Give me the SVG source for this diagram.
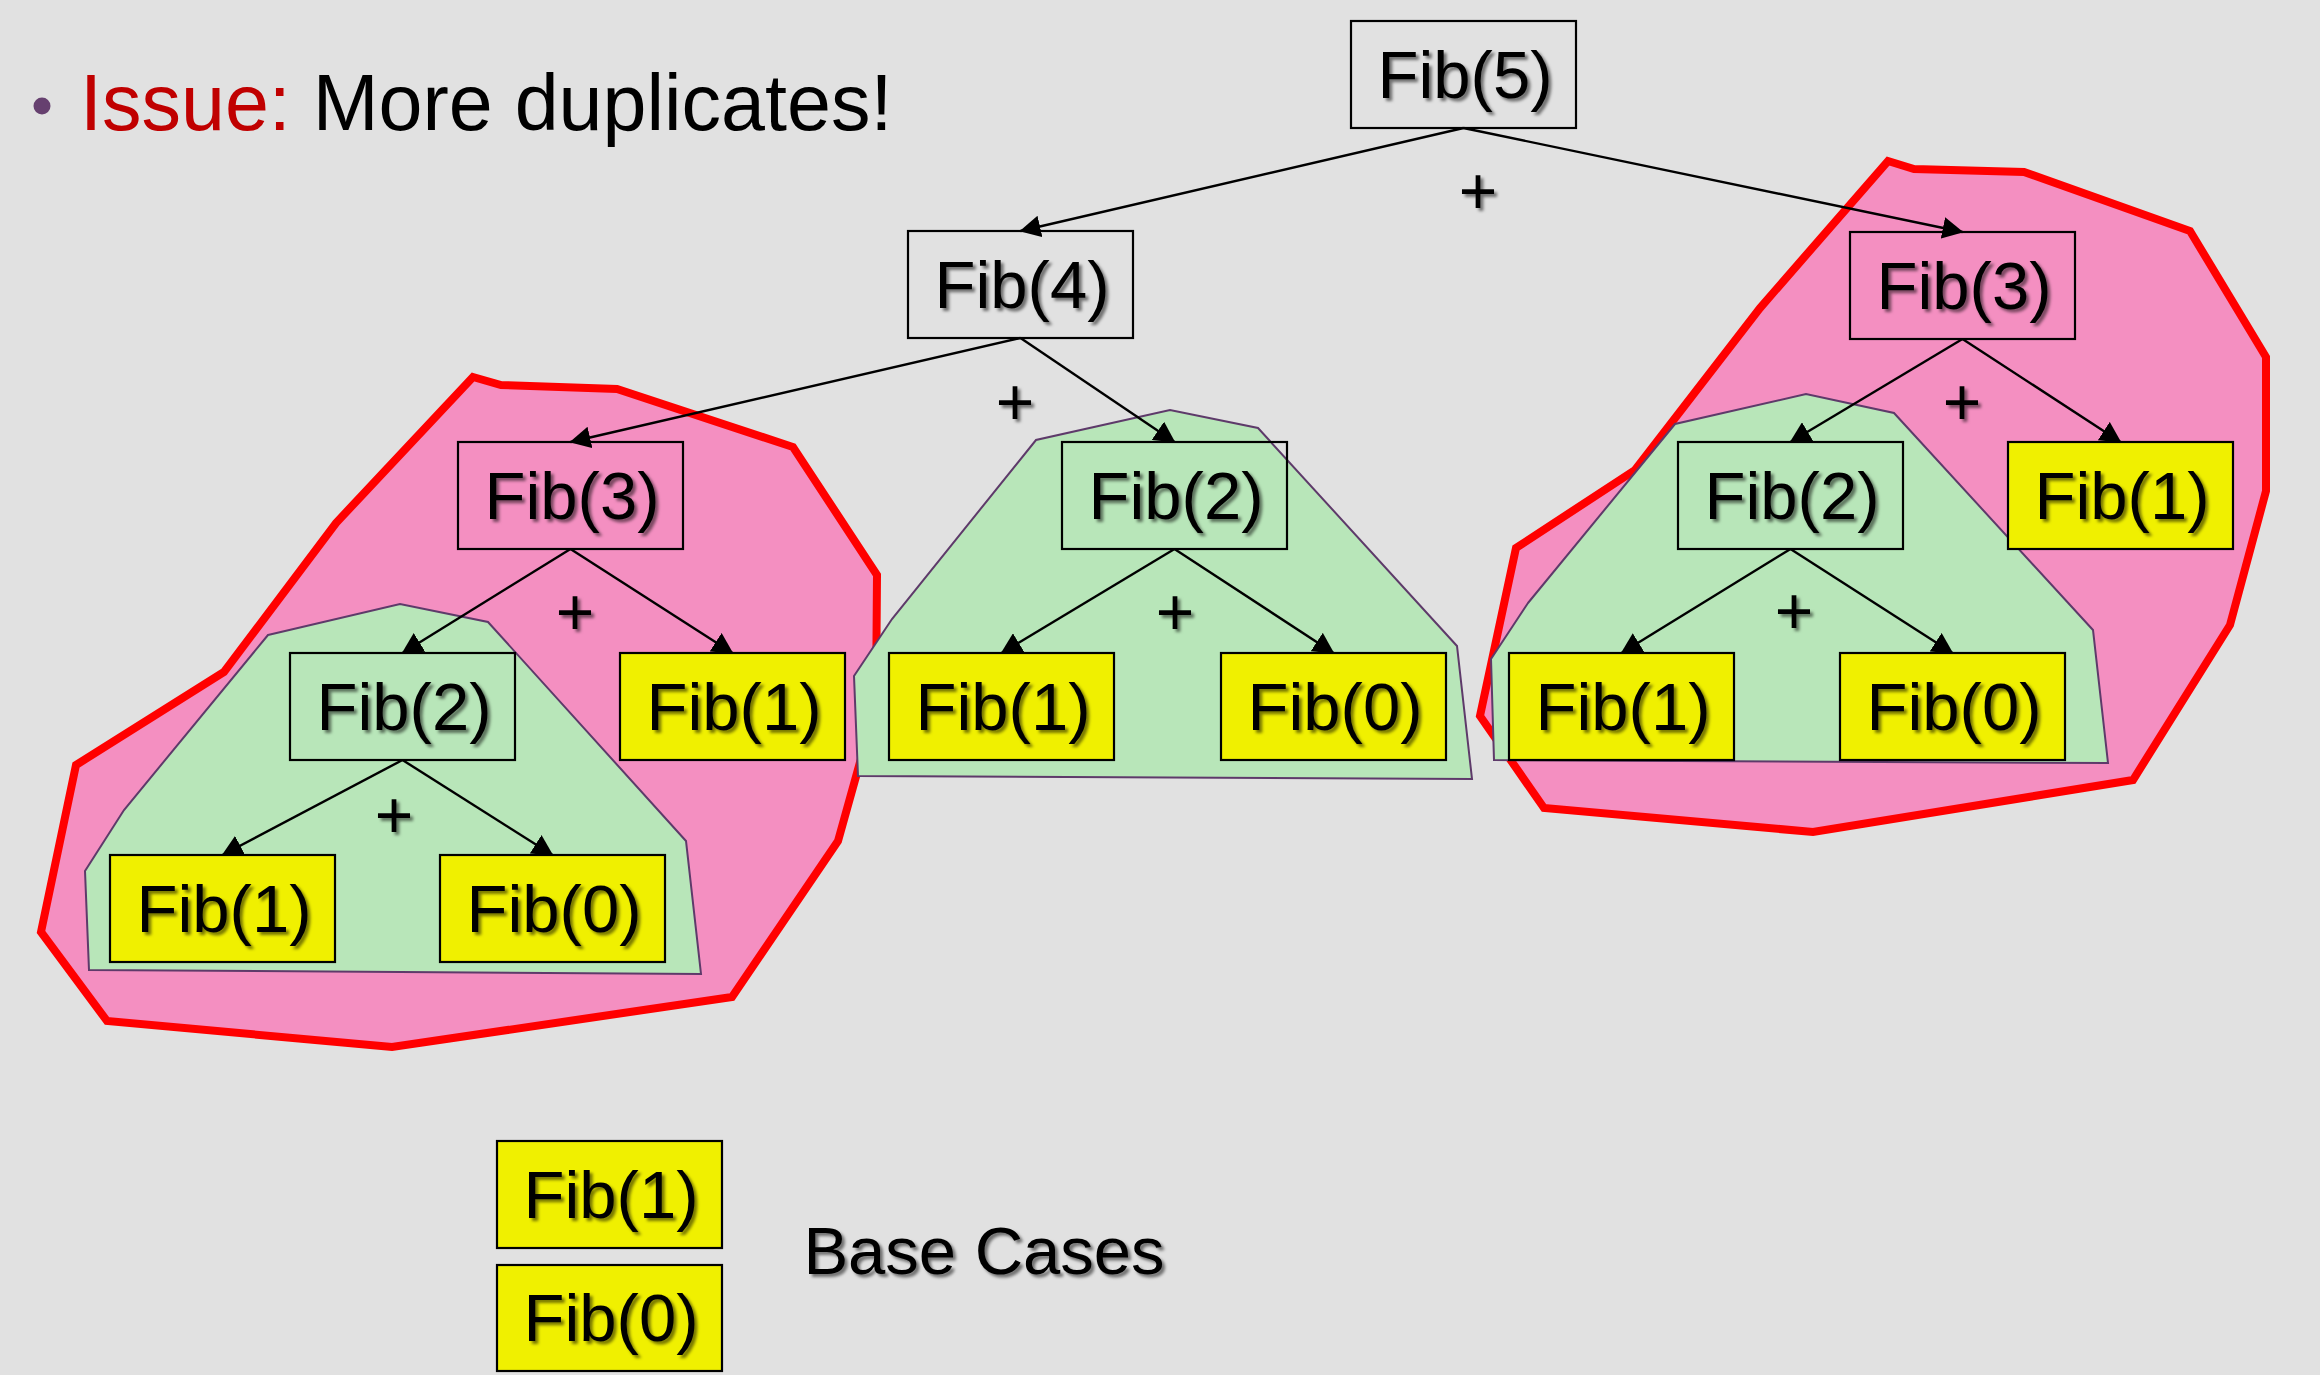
<svg xmlns="http://www.w3.org/2000/svg" width="2320" height="1375" viewBox="0 0 2320 1375">
<defs>
<style>
.bg{fill:#E1E1E1}
.pink{fill:#F48FC1;stroke:#FF0000;stroke-width:8;stroke-linejoin:miter}
.green{fill:#B8E6B9;stroke:#5E3A6A;stroke-width:2}
.box{fill:none;stroke:#000;stroke-width:2.2}
.ybox{fill:#F0F000;stroke:#000;stroke-width:2.2}
.t{font-family:"Liberation Sans",Arial,sans-serif;font-size:67px;fill:#000;text-anchor:middle;filter:url(#sh)}
.plus{font-family:"Liberation Sans",Arial,sans-serif;font-size:66px;fill:#000;text-anchor:middle;filter:url(#sh)}
.title{font-family:"Liberation Sans",Arial,sans-serif;font-size:79px}
.conn line{stroke:#000;stroke-width:2.4;marker-end:url(#ah)}
</style>
<filter id="sh" x="-10%" y="-20%" width="130%" height="150%">
<feDropShadow dx="3" dy="3" stdDeviation="1.8" flood-color="#000" flood-opacity="0.5"/>
</filter>
<marker id="ah" markerUnits="userSpaceOnUse" markerWidth="21" markerHeight="22" refX="20" refY="11" orient="auto">
<path d="M0,0 L21,11 L0,22 z" fill="#000"/>
</marker>
</defs>
<rect class="bg" x="0" y="0" width="2320" height="1375"/>

<g id="title">
<circle cx="42" cy="106" r="8.5" fill="#66406F"/>
<text class="title" x="80" y="130"><tspan fill="#C00000">Issue:</tspan><tspan fill="#000"> More duplicates!</tspan></text>
</g>

<g id="regions">
<polygon id="pink-left" class="pink" points="473,377 501,385 617,389 793,447 877,575 876,705 838,841 732,997 392,1047 107,1021 41,932 76,765 224,672 336,523"/>
<polygon id="pink-right" class="pink" points="1888,161 1914,169 2024,172 2190,231 2266,357 2266,491 2230,625 2133,780 1813,832 1544,808 1480,716 1516,548 1635,470 1760,308"/>
<polygon id="green-left" class="green" points="268,635 400,604 488,622 686,841 701,974 89,970 85,871 124,810"/>
<polygon id="green-mid" class="green" points="854,676 892,619 1036,440 1170,410 1258,428 1457,646 1472,779 858,776"/>
<polygon id="green-right" class="green" points="1528,603 1675,424 1806,394 1894,413 2093,630 2108,763 1494,760 1491,659"/>
</g>

<g id="fib5"><rect class="box" x="1351" y="21" width="225" height="107"/><text class="t" x="1465" y="98">Fib(5)</text></g>
<g id="fib4"><rect class="box" x="908" y="231" width="225" height="107"/><text class="t" x="1022" y="308">Fib(4)</text></g>
<g id="fib3-left"><rect class="box" x="458" y="442" width="225" height="107"/><text class="t" x="572" y="519">Fib(3)</text></g>
<g id="fib2-mid"><rect class="box" x="1062" y="442" width="225" height="107"/><text class="t" x="1176" y="519">Fib(2)</text></g>
<g id="fib3-right"><rect class="box" x="1850" y="232" width="225" height="107"/><text class="t" x="1964" y="309">Fib(3)</text></g>
<g id="fib2-right"><rect class="box" x="1678" y="442" width="225" height="107"/><text class="t" x="1792" y="519">Fib(2)</text></g>
<g id="fib1-right-top"><rect class="ybox" x="2008" y="442" width="225" height="107"/><text class="t" x="2122" y="519">Fib(1)</text></g>
<g id="fib2-left"><rect class="box" x="290" y="653" width="225" height="107"/><text class="t" x="404" y="730">Fib(2)</text></g>
<g id="fib1-left-mid"><rect class="ybox" x="620" y="653" width="225" height="107"/><text class="t" x="734" y="730">Fib(1)</text></g>
<g id="fib1-mid"><rect class="ybox" x="889" y="653" width="225" height="107"/><text class="t" x="1003" y="730">Fib(1)</text></g>
<g id="fib0-mid"><rect class="ybox" x="1221" y="653" width="225" height="107"/><text class="t" x="1335" y="730">Fib(0)</text></g>
<g id="fib1-right"><rect class="ybox" x="1509" y="653" width="225" height="107"/><text class="t" x="1623" y="730">Fib(1)</text></g>
<g id="fib0-right"><rect class="ybox" x="1840" y="653" width="225" height="107"/><text class="t" x="1954" y="730">Fib(0)</text></g>
<g id="fib1-left-low"><rect class="ybox" x="110" y="855" width="225" height="107"/><text class="t" x="224" y="932">Fib(1)</text></g>
<g id="fib0-left-low"><rect class="ybox" x="440" y="855" width="225" height="107"/><text class="t" x="554" y="932">Fib(0)</text></g>
<g id="legend-fib1"><rect class="ybox" x="497" y="1141" width="225" height="107"/><text class="t" x="611" y="1218">Fib(1)</text></g>
<g id="legend-fib0"><rect class="ybox" x="497" y="1265" width="225" height="106"/><text class="t" x="611" y="1341">Fib(0)</text></g>
<g id="legend-label"><text class="t" x="984" y="1274">Base Cases</text></g>

<g id="connectors" class="conn">
<line x1="1463.5" y1="128" x2="1020.5" y2="231"/>
<line x1="1463.5" y1="128" x2="1962.5" y2="232"/>
<line x1="1020.5" y1="338" x2="570.5" y2="442"/>
<line x1="1020.5" y1="338" x2="1174.5" y2="442"/>
<line x1="570.5" y1="549" x2="402.5" y2="653"/>
<line x1="570.5" y1="549" x2="732.5" y2="653"/>
<line x1="402.5" y1="760" x2="222.5" y2="855"/>
<line x1="402.5" y1="760" x2="552.5" y2="855"/>
<line x1="1174.5" y1="549" x2="1001.5" y2="653"/>
<line x1="1174.5" y1="549" x2="1333.5" y2="653"/>
<line x1="1962.5" y1="339" x2="1790.5" y2="442"/>
<line x1="1962.5" y1="339" x2="2120.5" y2="442"/>
<line x1="1790.5" y1="549" x2="1621.5" y2="653"/>
<line x1="1790.5" y1="549" x2="1952.5" y2="653"/>
</g>

<g id="plus-signs">
<text class="plus" x="1478" y="214">+</text>
<text class="plus" x="1015" y="425">+</text>
<text class="plus" x="575" y="635">+</text>
<text class="plus" x="1175" y="635">+</text>
<text class="plus" x="394" y="838">+</text>
<text class="plus" x="1962" y="425">+</text>
<text class="plus" x="1794" y="634">+</text>
</g>
</svg>
